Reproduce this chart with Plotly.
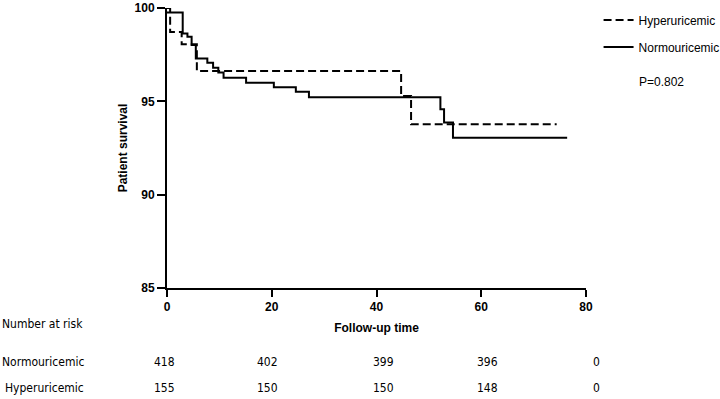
import plotly.graph_objects as go

# Kaplan-Meier step data
hyper_t = [0, 0.6, 2.8, 5.7, 44.7, 46.6, 74.4]
hyper_s = [100, 98.71, 98.06, 96.63, 95.29, 93.77, 93.77]

normo_t = [0, 3.0, 3.9, 4.7, 5.5, 7.7, 8.8, 9.8, 10.8, 15.1, 20.4, 24.6, 27.1, 52.2, 52.9, 54.6, 76.4]
normo_s = [99.76, 98.64, 98.46, 98.02, 97.30, 97.07, 96.80, 96.54, 96.27, 96.00, 95.75, 95.52, 95.22, 94.57, 93.86, 93.05, 93.05]

# Number at risk table
risk_times = [0, 20, 40, 60, 80]
risk_normo = ["418", "402", "399", "396", "0"]
risk_hyper = ["155", "150", "150", "148", "0"]
risk_xshift = [-3, -4, 7, 6, 10]

x_ticks = [0, 20, 40, 60, 80]
y_ticks = [85, 90, 95, 100]

fig = go.Figure()
fig.add_trace(go.Scatter(x=hyper_t, y=hyper_s, mode="lines", line_shape="hv",
                         name="Hyperuricemic", legendgroup="h",
                         line=dict(color="black", width=2, dash="8px,4px")))
fig.add_trace(go.Scatter(x=normo_t, y=normo_s, mode="lines", line_shape="hv",
                         name="Normouricemic", legendgroup="n",
                         line=dict(color="black", width=2)))

tick_font = dict(family="Liberation Sans", size=12, color="black")

fig.update_layout(
    width=720, height=399,
    margin=dict(l=167, r=134, t=8, b=111, autoexpand=False),
    paper_bgcolor="white", plot_bgcolor="white",
    showlegend=True,
    legend=dict(x=1.03, y=1.0086, xanchor="left", yanchor="top",
                font=dict(family="Liberation Sans", size=12, color="black"),
                tracegroupgap=8, itemwidth=30, bgcolor="rgba(0,0,0,0)"),
    xaxis=dict(range=[0, 80], tickvals=x_ticks, ticktext=["<b>%d</b>" % v for v in x_ticks],
               showgrid=False, zeroline=False, showline=True, linecolor="black", linewidth=2,
               ticks="outside", ticklen=7, tickwidth=2, tickcolor="black", tickfont=tick_font,
               title=dict(text="<b>Follow-up time</b>", font=tick_font, standoff=10)),
    yaxis=dict(range=[85, 100], tickvals=y_ticks, ticktext=["<b>%d</b>" % v for v in y_ticks],
               showgrid=False, zeroline=False, showline=True, linecolor="black", linewidth=2,
               ticks="outside", ticklen=8, tickwidth=2, tickcolor="black", tickfont=tick_font,
               title=dict(text="<b>Patient survival</b>", font=tick_font, standoff=4)),
)

table_font = dict(family="DejaVu Sans Condensed, Liberation Sans", size=12, color="black")

fig.add_annotation(x=-0.398, xref="paper", y=-0.129, yref="paper", text="Number at risk",
                   showarrow=False, xanchor="left", yanchor="middle", font=table_font)
fig.add_annotation(x=-0.398, xref="paper", y=-0.263, yref="paper", text="Normouricemic",
                   showarrow=False, xanchor="left", yanchor="middle", font=table_font)
fig.add_annotation(x=-0.391, xref="paper", y=-0.357, yref="paper", text="Hyperuricemic",
                   showarrow=False, xanchor="left", yanchor="middle", font=table_font)
for t, a, b, s in zip(risk_times, risk_normo, risk_hyper, risk_xshift):
    fig.add_annotation(x=t, xref="x", y=-0.263, yref="paper", text=a, showarrow=False,
                       xshift=s, yanchor="middle", font=table_font)
    fig.add_annotation(x=t, xref="x", y=-0.357, yref="paper", text=b, showarrow=False,
                       xshift=s, yanchor="middle", font=table_font)

fig.add_annotation(x=1.1217, xref="paper", y=0.736, yref="paper", text="P=0.802",
                   showarrow=False, xanchor="left", yanchor="middle",
                   font=dict(family="Liberation Sans", size=12, color="black"))

fig.write_html("out.html", config={"displayModeBar": False},
               post_script="document.body.style.margin='0';")
